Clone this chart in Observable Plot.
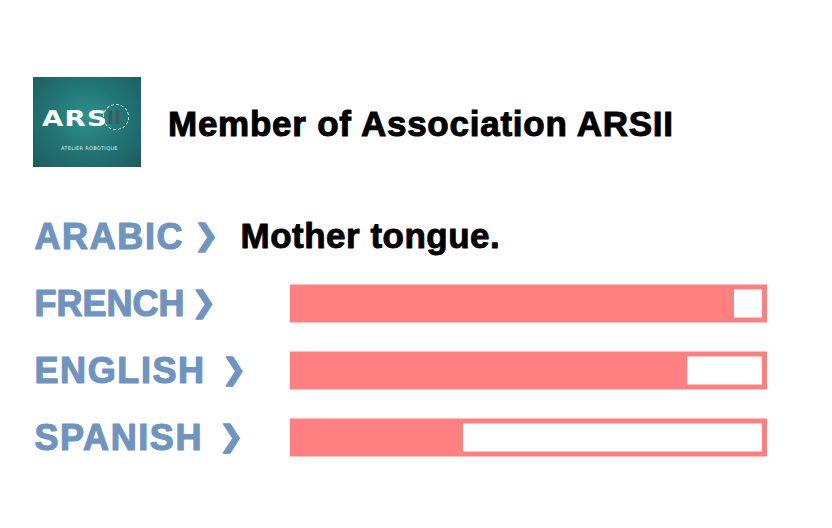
<!DOCTYPE html>
<html>
<head>
<meta charset="utf-8">
<script src="https://cdn.jsdelivr.net/npm/d3@7"></script>
<script src="https://cdn.jsdelivr.net/npm/@observablehq/plot@0.6"></script>
<style>
  html, body { margin: 0; padding: 0; background: #fff; }
  #wrap { position: relative; width: 832px; height: 528px; overflow: hidden; font-family: "Liberation Sans", Arial, sans-serif; }
  #head { position: relative; width: 832px; height: 195px; }
  #logo { position: absolute; left: 33px; top: 77px; width: 108px; height: 90px;
          background: radial-gradient(ellipse at 50% 45%, #2e9190 0%, #237676 45%, #1c5c60 100%); }
  #logo .ars { position: absolute; left: 9px; top: 29px; font: bold 22px "DejaVu Sans", sans-serif; color: #fff; letter-spacing: 1px; transform: scaleX(1.25); transform-origin: left top; }
  #logo .ii { position: absolute; left: 70px; top: 27px; width: 26px; height: 26px; border-radius: 50%; border: 1.5px dashed #e8f2f2; box-sizing: border-box; }
  #logo .ii span { position: absolute; left: 3px; top: 1px; font: bold 19px "DejaVu Sans", sans-serif; color: #3d5c63; }
  #logo .sub { position: absolute; left: 28px; top: 68px; font: 5px "DejaVu Sans", sans-serif; color: #dfeeee; letter-spacing: 0.3px; white-space: nowrap; }
  #title { position: absolute; left: 168px; top: 106px; font: bold 35px "Liberation Sans", Arial, sans-serif; line-height: 35px; color: #000; white-space: nowrap; letter-spacing: 0.75px; -webkit-text-stroke: 1px #000; }
  #chart { position: absolute; left: 0; top: 195px; }
</style>
</head>
<body>
<div id="wrap">
  <div id="head">
    <div id="logo">
      <div class="ars">ARS</div>
      <div class="ii"><span>II</span></div>
      <div class="sub">ATELIER ROBOTIQUE</div>
    </div>
    <div id="title">Member of Association ARSII</div>
  </div>
  <div id="chart"></div>
</div>
<script>
// Data
const languages = ["ARABIC", "FRENCH", "ENGLISH", "SPANISH"];
const labels = ["ARABIC", "FRENCH", "ENGLISH", "SPANISH"];
const chevron = "\u276F";
const levels = [null, 94, 84, 36];           // percent proficiency
const notes = ["Mother tongue.", "", "", ""];
const maxLevel = 100;

// label typography tweaks (px)
const chevronGap = [10, 7, 16, 16];
const labelSpacing = [1.6, 0, 1.6, 1.6];

const rows = languages.map((lang, i) => ({lang, label: labels[i], level: levels[i], note: notes[i]}));
const bars = rows.filter(d => d.level != null);
const noted = rows.filter(d => d.note);

const red = "#ff8080";
const blue = "#7094c0";

const chart = Plot.plot({
  width: 832,
  height: 333,
  marginLeft: 0,
  marginRight: 0,
  marginTop: 7.5,
  marginBottom: 57.5,
  style: {background: "white", fontFamily: "'Liberation Sans', Arial, sans-serif", overflow: "visible"},
  x: {domain: [0, maxLevel], range: [295, 762], axis: null},
  y: {domain: languages, padding: 0, axis: null},
  marks: [
    // full bar (red frame + filled part)
    Plot.barX(bars, {x1: d => 0, x2: d => maxLevel, y: "lang", fill: red,
      insetLeft: -5, insetRight: -5, insetTop: 14.5, insetBottom: 14.5}),
    // remaining (unfilled) part
    Plot.barX(bars, {x1: "level", x2: d => maxLevel, y: "lang", fill: "white",
      insetTop: 19.5, insetBottom: 19.5}),
    // language labels
    Plot.text(rows, {y: "lang", text: "label", frameAnchor: "left", dx: 34, textAnchor: "start",
      fontSize: 36, fontWeight: "bold", fill: blue, stroke: blue, strokeWidth: 1.2}),
    // notes
    Plot.text(noted, {y: "lang", text: "note", frameAnchor: "left", dx: 240, textAnchor: "start",
      fontSize: 35, fontWeight: "bold", fill: "black", stroke: "black", strokeWidth: 0.9})
  ]
});
const svg = d3.select(chart);
svg.selectAll("text").each(function () {
  const t = d3.select(this);
  const txt = t.text();
  const i = labels.indexOf(txt);
  if (i >= 0) {
    t.attr("letter-spacing", labelSpacing[i] + "px");
    t.append("tspan")
      .attr("dx", chevronGap[i])
      .attr("dy", -4)
      .attr("font-family", "'DejaVu Sans', sans-serif")
      .attr("font-size", 29)
      .attr("letter-spacing", 0)
      .attr("stroke-width", 1.4)
      .text(chevron);
  } else if (txt === notes[0]) {
    t.attr("letter-spacing", "0.5px");
  }
});
document.getElementById("chart").appendChild(chart);
</script>
</body>
</html>
